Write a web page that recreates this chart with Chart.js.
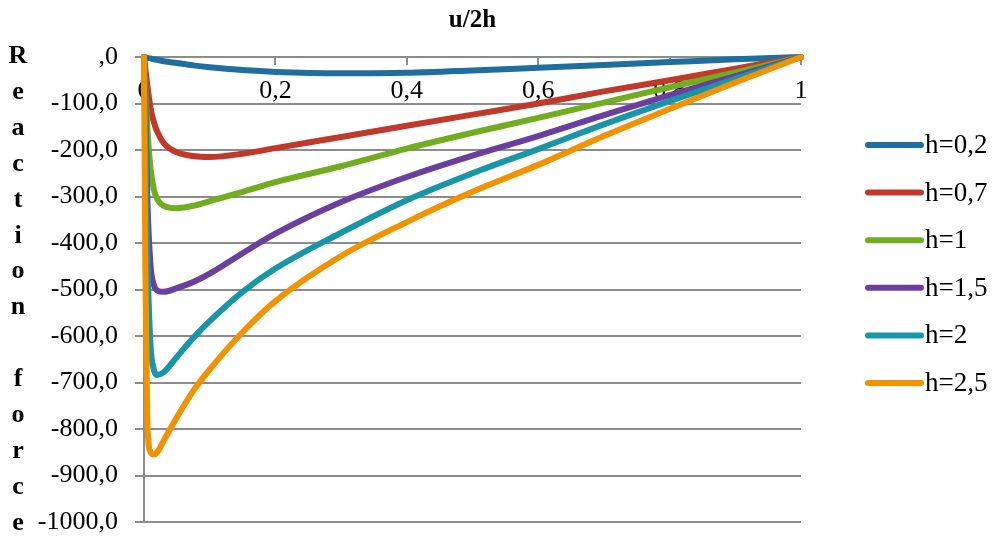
<!DOCTYPE html>
<html>
<head>
<meta charset="utf-8">
<script src="https://cdn.jsdelivr.net/npm/chart.js@4"></script>
<style>
html, body { margin: 0; padding: 0; background: #fff; }
</style>
</head>
<body>
<canvas id="reactionChart" width="999" height="536"></canvas>
<script>
// u/2h positions (shared by all curves)
var uValues = [0, 0.002, 0.005, 0.01, 0.015, 0.02, 0.03, 0.05, 0.075, 0.1, 0.15, 0.2, 0.3, 0.4, 0.5, 0.6, 0.7, 0.8, 0.9, 1];

// reaction force
var forceH02 = [0, -1, -2, -3, -5, -6, -9, -13, -18, -22, -28, -32, -35, -34, -29, -23, -17, -11, -5, 0];
var forceH07 = [0, -25, -60, -110, -140, -160, -185, -205, -213, -215, -208, -196, -172, -148, -124, -100, -74, -50, -25, 0];
var forceH1 = [0, -60, -150, -240, -285, -305, -320, -325, -320, -310, -290, -269, -235, -197, -163, -131, -98, -65, -33, 0];
var forceH15 = [0, -100, -300, -450, -490, -502, -505, -497, -484, -466, -422, -380, -312, -258, -212, -170, -125, -82, -41, 0];
var forceH2 = [0, -150, -420, -620, -672, -684, -678, -645, -604, -568, -505, -455, -378, -308, -250, -198, -145, -95, -47, 0];
var forceH25 = [0, -450, -780, -850, -855, -850, -825, -775, -718, -672, -592, -525, -428, -355, -290, -232, -170, -112, -55, 0];

var seriesNames = ['h=0,2', 'h=0,7', 'h=1', 'h=1,5', 'h=2', 'h=2,5'];
var seriesColors = ['#1f6ea0', '#c0392b', '#70ad1f', '#6a3fa0', '#1796aa', '#f39200'];
var seriesValues = [forceH02, forceH07, forceH1, forceH15, forceH2, forceH25];

var GRID = '#8c8c8c';
var SERIF = "'Liberation Serif', 'Times New Roman', serif";

function toPoints(values) {
    return values.map(function (v, i) {
        return { x: uValues[i], y: v };
    });
}

function commaNumber(v) {
    return String(v).replace('.', ',');
}

var datasets = seriesValues.map(function (values, i) {
    return {
        label: seriesNames[i],
        data: toPoints(values),
        borderColor: seriesColors[i],
        backgroundColor: seriesColors[i],
        borderWidth: 6,
        borderCapStyle: 'round',
        borderJoinStyle: 'round',
        pointRadius: 0,
        cubicInterpolationMode: 'monotone',
        clip: false,
        order: seriesValues.length - i
    };
});

// titles and legend drawn by hand, Excel style
var decorations = {
    id: 'decorations',
    afterDraw: function (chart) {
        var ctx = chart.ctx;
        var area = chart.chartArea;
        ctx.save();
        ctx.fillStyle = '#000';

        ctx.font = 'bold 25px ' + SERIF;
        ctx.textAlign = 'center';
        ctx.textBaseline = 'alphabetic';
        ctx.fillText('u/2h', (area.left + area.right) / 2, 27);

        var yTitle = 'Reaction force';
        ctx.font = 'bold 26px ' + SERIF;
        for (var i = 0; i < yTitle.length; i++) {
            ctx.fillText(yTitle[i], 18, 63 + i * 35.9);
        }

        ctx.textAlign = 'left';
        ctx.textBaseline = 'middle';
        ctx.font = '27px ' + SERIF;
        chart.data.datasets.forEach(function (ds, i) {
            var y = 145 + i * 47.6;
            ctx.strokeStyle = ds.borderColor;
            ctx.lineWidth = 6;
            ctx.lineCap = 'round';
            ctx.beginPath();
            ctx.moveTo(868, y);
            ctx.lineTo(921, y);
            ctx.stroke();
            ctx.fillText(ds.label, 925, y + 1);
        });
        ctx.restore();
    }
};

var ctx = document.getElementById('reactionChart').getContext('2d');
var chart = new Chart(ctx, {
    type: 'line',
    data: { datasets: datasets },
    options: {
        responsive: false,
        animation: false,
        layout: {
            padding: { left: 34, right: 198, top: 57, bottom: 14 }
        },
        plugins: {
            legend: { display: false },
            tooltip: { enabled: false }
        },
        scales: {
            x: {
                type: 'linear',
                position: { y: 0 },
                min: 0,
                max: 1,
                ticks: {
                    stepSize: 0.2,
                    padding: 12,
                    color: '#000',
                    font: { family: SERIF, size: 26 },
                    maxRotation: 0,
                    callback: function (value) {
                        return commaNumber(Math.round(value * 10) / 10);
                    }
                },
                grid: {
                    drawOnChartArea: false,
                    drawTicks: true,
                    tickLength: 7,
                    color: GRID,
                    lineWidth: 2
                },
                border: { display: true, color: GRID, width: 2 }
            },
            y: {
                min: -1000,
                max: 0,
                afterFit: function (scale) {
                    scale.width = 110;
                    scale.paddingTop = 0;
                    scale.paddingBottom = 0;
                },
                ticks: {
                    stepSize: 100,
                    padding: 17,
                    color: '#000',
                    font: { family: SERIF, size: 26, lineHeight: 1 },
                    callback: function (value) {
                        return value === 0 ? ',0' : commaNumber(value.toFixed(1));
                    }
                },
                grid: {
                    color: GRID,
                    lineWidth: 2,
                    tickLength: 9
                },
                border: { display: true, color: GRID, width: 2 }
            }
        }
    },
    plugins: [decorations]
});
</script>
</body>
</html>
